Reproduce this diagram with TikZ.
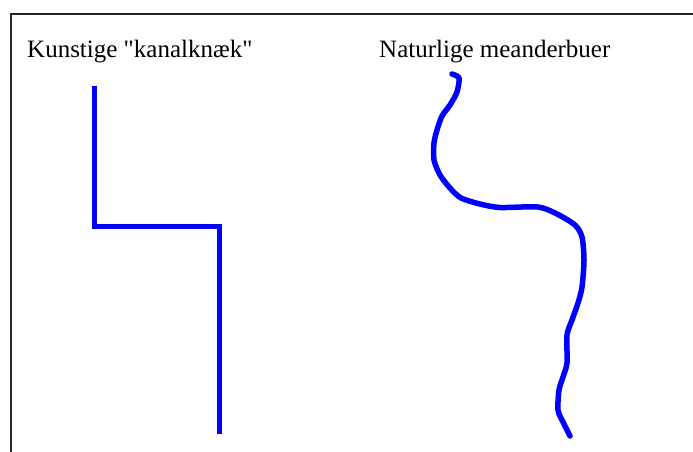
\documentclass[tikz,border=0pt]{standalone}
\usepackage{fontspec}
\setmainfont{Liberation Serif}[Ligatures=TeXOff]
\begin{document}
\begin{tikzpicture}[x=1pt,y=-1pt,
  frameline/.style={line width=2pt,draw=black!85},
  river/.style={line width=5.5pt,draw=blue,line join=round,line cap=round},
  canal/.style={line width=5pt,draw=blue,line join=miter},
  caption/.style={anchor=base west,inner sep=0pt,font=\fontsize{25}{30}\selectfont}]
  \useasboundingbox (0,0) rectangle (693,452);
  % open frame: top and left edges only
  \draw[frameline] (11,452) -- (11,14.5) -- (693,14.5);
  % captions
  \node[caption] (kunst) at (27,57) {Kunstige "kanalknæk"};
  \node[caption] (natur) at (379,57) {Naturlige meanderbuer};
  % straightened channel with right-angle bends
  \draw[canal] (94.5,86) -- (94.5,226.5) -- (219,226.5) -- (219,434);
  % natural meandering river
  \draw[river] plot[smooth,tension=0.45] coordinates {
    (452,74) (459,78) (457,92) (450,105) (442,116) (437,130) (434,143)
    (434,160) (440,175) (450,188) (461,198) (480,204) (500,207.5)
    (538,207) (557,214) (575,225) (582,237) (584,260) (582,287)
    (578,303) (572,320) (567,335) (567,363) (563,377) (559,390)
    (558,410) (563,422) (570,436)};
\end{tikzpicture}
\end{document}
